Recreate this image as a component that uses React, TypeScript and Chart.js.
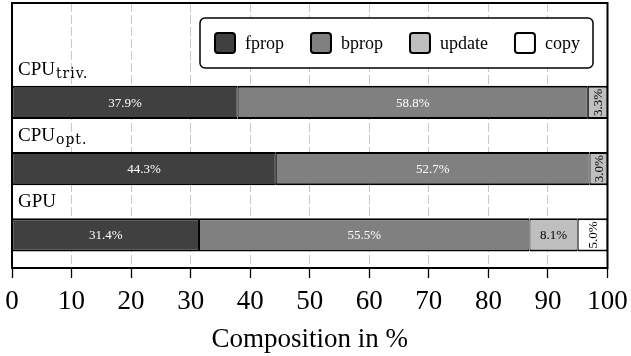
import React, { useEffect, useRef } from 'react';
import { Chart, registerables } from 'chart.js';

Chart.register(...registerables);

// ---- data ----
const categories = ['', 'CPU_triv.', 'CPU_opt.', 'GPU'];
const categoryMain = ['', 'CPU', 'CPU', 'GPU'];
const categorySub = ['', 'triv.', 'opt.', ''];
const seriesNames = ['fprop', 'bprop', 'update', 'copy'];
const fprop = [null, 37.9, 44.3, 31.4];
const bprop = [null, 58.8, 52.7, 55.5];
const update = [null, 3.3, 3.0, 8.1];
const copy = [null, null, null, 5.0];
const xTickValues = [0, 10, 20, 30, 40, 50, 60, 70, 80, 90, 100];
const xTitle = 'Composition in %';

// ---- styles ----
const fillColors = ['#404040', '#808080', '#bfbfbf', '#ffffff'];
const labelColors = ['#ffffff', '#ffffff', '#000000', '#000000'];
const SERIF = '"Liberation Serif", "Times New Roman", serif';

const frameAndLabels = {
  id: 'frameAndLabels',
  afterDatasetsDraw(chart: any) {
    const ctx = chart.ctx as CanvasRenderingContext2D;
    const area = chart.chartArea;

    // value labels
    chart.data.datasets.forEach((ds: any, di: number) => {
      const meta = chart.getDatasetMeta(di);
      meta.data.forEach((el: any, i: number) => {
        const v = ds.data[i];
        if (v == null) return;
        const p = el.getProps(['x', 'y', 'base'], true);
        const w = Math.abs(p.x - p.base);
        const cx = (p.x + p.base) / 2;
        const text = v.toFixed(1) + '%';
        ctx.save();
        ctx.fillStyle = labelColors[di];
        ctx.font = '13px ' + SERIF;
        ctx.textAlign = 'center';
        ctx.textBaseline = 'middle';
        if (w < 36) {
          ctx.translate(cx + 1, p.y);
          ctx.rotate(-Math.PI / 2);
          ctx.fillText(text, 0, 0);
        } else {
          ctx.fillText(text, cx, p.y + 1);
        }
        ctx.restore();
      });
    });

    // category labels (with subscripts)
    const meta0 = chart.getDatasetMeta(0);
    categoryMain.forEach((main, i) => {
      if (!main) return;
      const el: any = meta0.data[i];
      const p = el.getProps(['y', 'height'], true);
      const baseY = p.y - p.height / 2 - 11;
      ctx.save();
      ctx.fillStyle = '#000';
      ctx.textBaseline = 'alphabetic';
      ctx.textAlign = 'left';
      ctx.font = '19px ' + SERIF;
      const x0 = area.left + 6;
      ctx.fillText(main, x0, baseY);
      const mw = ctx.measureText(main).width;
      if (categorySub[i]) {
        ctx.font = '14px "DejaVu Serif", serif';
        (ctx as any).letterSpacing = '1px';
        ctx.fillText(categorySub[i], x0 + mw + 1, baseY + 3);
      }
      ctx.restore();
    });

    // frame
    ctx.save();
    ctx.strokeStyle = '#000';
    ctx.lineWidth = 2;
    ctx.strokeRect(area.left, area.top, area.right - area.left, area.bottom - area.top);
    ctx.restore();

    // legend
    ctx.save();
    const lx = 200, ly = 18, lw = 393, lh = 50;
    ctx.beginPath();
    ctx.roundRect(lx, ly, lw, lh, 5);
    ctx.fillStyle = '#fff';
    ctx.fill();
    ctx.lineWidth = 1.5;
    ctx.strokeStyle = '#000';
    ctx.stroke();
    ctx.font = '18px ' + SERIF;
    ctx.textBaseline = 'alphabetic';
    ctx.textAlign = 'left';
    let x = 215;
    seriesNames.forEach((name, i) => {
      ctx.beginPath();
      ctx.roundRect(x, 33, 20, 20, 3);
      ctx.fillStyle = fillColors[i];
      ctx.fill();
      ctx.lineWidth = 2;
      ctx.strokeStyle = '#000';
      ctx.stroke();
      ctx.fillStyle = '#000';
      ctx.fillText(name, x + 30, 49);
      x += 30 + ctx.measureText(name).width + 27;
    });
    ctx.restore();
  },
};

export default function App() {
  const ref = useRef<HTMLCanvasElement | null>(null);

  useEffect(() => {
    if (!ref.current) return;
    const seriesData = [fprop, bprop, update, copy];
    const chart = new Chart(ref.current, {
      type: 'bar',
      data: {
        labels: categories,
        datasets: seriesNames.map((name, i) => ({
          label: name,
          data: seriesData[i],
          backgroundColor: fillColors[i],
          borderColor: '#000',
          borderWidth: { top: 2, bottom: 2, left: 1, right: 1 },
          borderSkipped: false,
          barPercentage: 0.5,
          categoryPercentage: 1,
        })) as any,
      },
      options: {
        animation: false,
        responsive: true,
        maintainAspectRatio: false,
        indexAxis: 'y',
        layout: { padding: { left: 12, right: 23.5, top: 3, bottom: 0 } },
        plugins: {
          legend: { display: false },
          tooltip: { enabled: false },
        },
        scales: {
          y: {
            type: 'category',
            stacked: true,
            display: false,
          },
          x: {
            type: 'linear',
            stacked: true,
            min: 0,
            max: 100,
            afterBuildTicks: (scale: any) => {
              scale.ticks = xTickValues.map((v) => ({ value: v }));
            },
            afterFit: (scale: any) => {
              scale.height = 88;
              scale.paddingLeft = 0;
              scale.paddingRight = 0;
            },
            ticks: {
              color: '#000',
              font: { family: SERIF, size: 27 },
              padding: 8,
              maxRotation: 0,
              autoSkip: false,
            },
            grid: {
              color: '#c8c8c8',
              lineWidth: 1,
              tickColor: '#000',
              tickLength: 10,
              tickWidth: 1.3,
            },
            border: { display: false, dash: [9, 3] },
            title: {
              display: true,
              text: xTitle,
              color: '#000',
              font: { family: SERIF, size: 27 },
              padding: 0,
            },
          },
        },
      },
      plugins: [frameAndLabels],
    });
    return () => chart.destroy();
  }, []);

  return (
    <div style={{ position: 'fixed', left: 0, top: 0, width: 631, height: 356, background: '#fff' }}>
      <canvas ref={ref} />
    </div>
  );
}
